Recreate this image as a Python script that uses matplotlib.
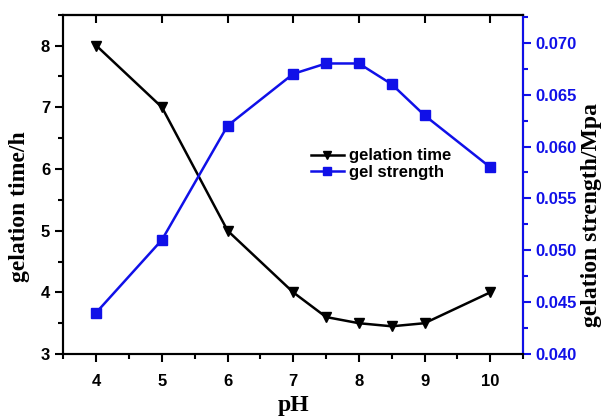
import matplotlib
matplotlib.use("Agg")
import matplotlib.pyplot as plt
from matplotlib.ticker import MultipleLocator

ph = [4, 5, 6, 7, 7.5, 8, 8.5, 9, 10]
gel_time = [8, 7, 5, 4, 3.6, 3.5, 3.45, 3.5, 4]
gel_strength = [0.044, 0.051, 0.062, 0.067, 0.068, 0.068, 0.066, 0.063, 0.058]

blue = "#1010e8"
tick_font = {"family": "Liberation Sans", "weight": "bold", "size": 12}
label_font = {"family": "Liberation Serif", "weight": "bold", "size": 17}

fig, ax = plt.subplots(figsize=(6.04, 4.2), dpi=100)
fig.subplots_adjust(left=0.105, right=0.866, top=0.965, bottom=0.157)
ax2 = ax.twinx()

l1, = ax.plot(ph, gel_time, color="black", lw=1.8, marker="v", ms=7.5, label="gelation time")
l2, = ax2.plot(ph, gel_strength, color=blue, lw=1.8, marker="s", ms=6.5, label="gel strength")

ax.set_xlim(3.5, 10.5)
ax.set_ylim(3, 8.5)
ax2.set_ylim(0.040, 0.0727)

ax.xaxis.set_major_locator(MultipleLocator(1))
ax.xaxis.set_minor_locator(MultipleLocator(0.5))
ax.yaxis.set_major_locator(MultipleLocator(1))
ax.yaxis.set_minor_locator(MultipleLocator(0.5))
ax2.yaxis.set_major_locator(MultipleLocator(0.005))
ax2.yaxis.set_minor_locator(MultipleLocator(0.0025))
ax2.yaxis.set_major_formatter(plt.FormatStrFormatter("%.3f"))

for a in (ax, ax2):
    for s in a.spines.values():
        s.set_linewidth(1.5)
ax2.spines["right"].set_color(blue)

ax.tick_params(which="major", direction="out", length=6, width=1.5)
ax.tick_params(which="minor", direction="out", length=3.5, width=1.5)
ax.tick_params(axis="x", which="major", pad=8)
ax2.tick_params(which="major", direction="out", length=6, width=1.5, colors=blue, pad=3)
ax2.tick_params(which="minor", direction="out", length=3.5, width=1.5, colors=blue)

# inward ticks along the top edge
top = ax.secondary_xaxis("top")
top.xaxis.set_major_locator(MultipleLocator(1))
top.tick_params(direction="in", length=6, width=1.5, labeltop=False)
top.spines["top"].set_linewidth(1.5)

for lab in ax.get_xticklabels() + ax.get_yticklabels():
    lab.set_fontproperties(tick_font)
for lab in ax2.get_yticklabels():
    lab.set_fontproperties(tick_font)
    lab.set_color(blue)

ax.set_xlabel("pH", fontdict=label_font, labelpad=5)
ax.set_ylabel("gelation time/h", fontdict=label_font, labelpad=8, y=0.434)
ax2.set_ylabel("gelation strength/Mpa", fontdict=label_font, labelpad=3, y=0.41)

leg = ax.legend([l1, l2], ["gelation time", "gel strength"], loc="upper left",
                bbox_to_anchor=(0.505, 0.65), frameon=False, handlelength=2.0,
                handletextpad=0.3, labelspacing=0.1, markerscale=0.85,
                prop={"family": "Liberation Sans", "weight": "bold", "size": 12})

fig.savefig("out.png", dpi=100)
